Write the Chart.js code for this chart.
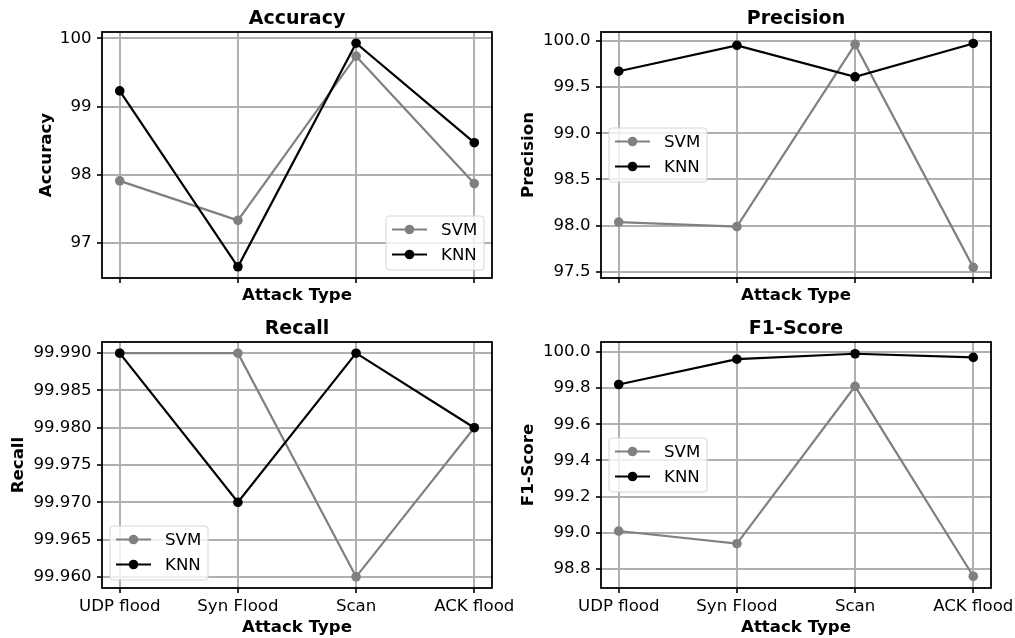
<!DOCTYPE html>
<html><head><meta charset="utf-8">
<script src="https://cdn.jsdelivr.net/npm/chart.js@4"></script>
<style>
html,body{margin:0;padding:0;background:#fff;}
#wrap{position:relative;width:1015px;height:638px;overflow:hidden;background:#fff;}
canvas{position:absolute;left:0;top:0;}
</style></head><body><div id="wrap">
<canvas id="c0" width="1015" height="638"></canvas>
<canvas id="c1" width="1015" height="638"></canvas>
<canvas id="c2" width="1015" height="638"></canvas>
<canvas id="c3" width="1015" height="638"></canvas>
</div>
<script>
const categories = ['UDP flood', 'Syn Flood', 'Scan', 'ACK flood'];
const categoryTicks = [0, 1, 2, 3];
const seriesNames = ['SVM', 'KNN'];

const accuracySVM = [97.91, 97.33, 99.74, 97.87];
const accuracyKNN = [99.23, 96.65, 99.93, 98.47];
const precisionSVM = [98.04, 97.99, 99.96, 97.55];
const precisionKNN = [99.67, 99.95, 99.61, 99.97];
const recallSVM = [99.99, 99.99, 99.96, 99.98];
const recallKNN = [99.99, 99.97, 99.99, 99.98];
const f1SVM = [99.01, 98.94, 99.81, 98.76];
const f1KNN = [99.82, 99.96, 99.99, 99.97];

const accuracyTicks = [97, 98, 99, 100];
const precisionTicks = [97.5, 98.0, 98.5, 99.0, 99.5, 100.0];
const recallTicks = [99.960, 99.965, 99.970, 99.975, 99.980, 99.985, 99.990];
const f1Ticks = [98.8, 99.0, 99.2, 99.4, 99.6, 99.8, 100.0];

const FONT = "'DejaVu Sans', 'Liberation Sans', sans-serif";
const W = 1015, H = 638;
const FS = 16.6;

const panels = [
  {id:'c0', title:'Accuracy', ylabel:'Accuracy', svm:accuracySVM, knn:accuracyKNN, ticks:accuracyTicks, dec:0,
   ymin:96.485, ymax:100.094, area:{l:102, t:32, r:492, b:278}, yTitleX:46.5, xTitleY:296.5, showX:false, legend:'lower right'},
  {id:'c1', title:'Precision', ylabel:'Precision', svm:precisionSVM, knn:precisionKNN, ticks:precisionTicks, dec:1,
   ymin:97.435, ymax:100.094, area:{l:601, t:32, r:991, b:278}, yTitleX:528.8, xTitleY:296.5, showX:false, legend:'center left'},
  {id:'c2', title:'Recall', ylabel:'Recall', svm:recallSVM, knn:recallKNN, ticks:recallTicks, dec:3,
   ymin:99.9585, ymax:99.9915, area:{l:102, t:342, r:492, b:588}, yTitleX:18.8, xTitleY:628, showX:true, legend:'lower left'},
  {id:'c3', title:'F1-Score', ylabel:'F1-Score', svm:f1SVM, knn:f1KNN, ticks:f1Ticks, dec:1,
   ymin:98.695, ymax:100.055, area:{l:601, t:342, r:991, b:588}, yTitleX:528.8, xTitleY:628, showX:true, legend:'center left'}
];

function roundRect(ctx, x, y, w, h, r) {
  ctx.beginPath();
  ctx.moveTo(x + r, y);
  ctx.lineTo(x + w - r, y);
  ctx.quadraticCurveTo(x + w, y, x + w, y + r);
  ctx.lineTo(x + w, y + h - r);
  ctx.quadraticCurveTo(x + w, y + h, x + w - r, y + h);
  ctx.lineTo(x + r, y + h);
  ctx.quadraticCurveTo(x, y + h, x, y + h - r);
  ctx.lineTo(x, y + r);
  ctx.quadraticCurveTo(x, y, x + r, y);
  ctx.closePath();
}

const decor = {
  id: 'decor',
  afterDraw(chart, args, opts) {
    const ctx = chart.ctx, ca = chart.chartArea;
    ctx.save();
    ctx.strokeStyle = '#000';
    ctx.lineWidth = 1.8;
    ctx.strokeRect(ca.left, ca.top, ca.right - ca.left, ca.bottom - ca.top);
    ctx.fillStyle = '#000';
    ctx.font = 'bold 19px ' + FONT;
    ctx.textAlign = 'center';
    ctx.textBaseline = 'middle';
    ctx.fillText(opts.title, (ca.left + ca.right) / 2, ca.top - 12.8);
    const bw = 98, bh = 54, pad = 8;
    const loc = opts.legend;
    const bx = loc.indexOf('right') >= 0 ? ca.right - pad - bw : ca.left + pad;
    const by = loc.indexOf('lower') === 0 ? ca.bottom - pad - bh : (ca.top + ca.bottom) / 2 - bh / 2;
    roundRect(ctx, bx, by, bw, bh, 3);
    ctx.fillStyle = 'rgba(255,255,255,0.8)';
    ctx.fill();
    ctx.strokeStyle = '#d6d6d6';
    ctx.lineWidth = 1;
    ctx.stroke();
    ctx.font = FS + 'px ' + FONT;
    ctx.textAlign = 'left';
    ctx.textBaseline = 'middle';
    chart.data.datasets.forEach((ds, i) => {
      const ry = by + 13.5 + i * 25;
      ctx.strokeStyle = ds.borderColor;
      ctx.lineWidth = ds.borderWidth;
      ctx.beginPath();
      ctx.moveTo(bx + 6, ry);
      ctx.lineTo(bx + 41, ry);
      ctx.stroke();
      ctx.fillStyle = ds.pointBackgroundColor;
      ctx.beginPath();
      ctx.arc(bx + 23.5, ry, ds.pointRadius, 0, Math.PI * 2);
      ctx.fill();
      ctx.fillStyle = '#000';
      ctx.fillText(ds.label, bx + 55, ry + 1);
    });
    ctx.restore();
  }
};

panels.forEach(p => {
  const a = p.area;
  const xH = p.xTitleY + 9.6 - a.b;
  const padLeft = p.yTitleX - 9.6;
  const yW = a.l - padLeft;
  const mk = (label, vals, color, order) => ({
    label: label,
    data: vals.map((v, i) => ({x: categoryTicks[i], y: v})),
    borderColor: color,
    backgroundColor: color,
    pointBackgroundColor: color,
    pointBorderColor: color,
    pointBorderWidth: 0,
    pointRadius: 4.8,
    borderWidth: 2.2,
    tension: 0,
    order: order
  });
  const gridOpts = {color: '#b0b0b0', lineWidth: 2, tickColor: '#000', tickLength: 5, tickWidth: 1.6, drawTicks: true};
  new Chart(document.getElementById(p.id), {
    type: 'line',
    data: {
      datasets: [
        mk(seriesNames[0], p.svm, '#808080', 2),
        mk(seriesNames[1], p.knn, '#000000', 1)
      ]
    },
    plugins: [decor],
    options: {
      responsive: false,
      animation: false,
      devicePixelRatio: 1,
      layout: {padding: {left: padLeft, top: a.t, right: W - a.r, bottom: H - a.b - xH}},
      plugins: {
        legend: {display: false},
        tooltip: {enabled: false},
        title: {display: false},
        decor: {title: p.title, legend: p.legend}
      },
      scales: {
        x: {
          type: 'linear', min: -0.15, max: 3.15,
          afterBuildTicks: s => { s.ticks = categoryTicks.map(v => ({value: v})); },
          afterFit: s => { s.height = xH; s.paddingLeft = 0; s.paddingRight = 0; },
          ticks: {autoSkip: false, maxRotation: 0, minRotation: 0, padding: 4, color: '#000',
                  font: {family: FONT, size: FS},
                  callback: v => p.showX ? categories[v] : ''},
          grid: gridOpts,
          border: {display: false},
          title: {display: true, text: 'Attack Type', color: '#000', padding: 0,
                  font: {family: FONT, size: FS, weight: 'bold', lineHeight: 1.2}}
        },
        y: {
          type: 'linear', min: p.ymin, max: p.ymax,
          afterBuildTicks: s => { s.ticks = p.ticks.map(v => ({value: v})); },
          afterFit: s => { s.width = yW; s.paddingTop = 0; s.paddingBottom = 0; },
          ticks: {autoSkip: false, padding: 5.5, color: '#000',
                  font: {family: FONT, size: FS},
                  callback: v => Number(v).toFixed(p.dec)},
          grid: gridOpts,
          border: {display: false},
          title: {display: true, text: p.ylabel, color: '#000', padding: 0,
                  font: {family: FONT, size: FS, weight: 'bold', lineHeight: 1.2}}
        }
      }
    }
  });
});
</script>
</body></html>
